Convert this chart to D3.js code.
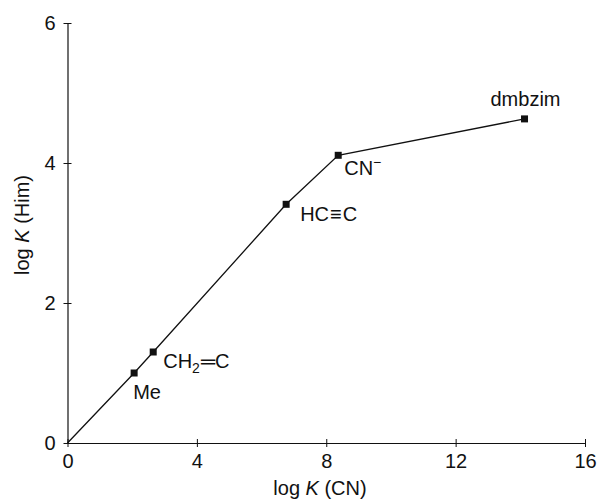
<!DOCTYPE html>
<html>
<head>
<meta charset="utf-8">
<script src="https://cdn.jsdelivr.net/npm/d3@7"></script>
<style>
  body { margin: 0; background: #fff; }
  svg { font-family: "Liberation Sans", Arial, sans-serif; }
</style>
</head>
<body>
<div id="chart"></div>
<script>
// datos
const ligands = ["Me", "CH2=C", "HC≡C", "CN-", "dmbzim"];
const logKCN = [2.06, 2.65, 6.76, 8.37, 14.13];
const logKHim = [1.0, 1.3, 3.41, 4.11, 4.63];
const xTicks = [0, 4, 8, 12, 16];
const yTicks = [0, 2, 4, 6];

const width = 599, height = 500;
const fs = 20;
const svg = d3.select("#chart").append("svg")
  .attr("width", width).attr("height", height);

const x = d3.scaleLinear().domain([0, 16]).range([67.5, 585]);
const y = d3.scaleLinear().domain([0, 6]).range([443, 23]);

// ejes
const xAxis = svg.append("g")
  .attr("transform", `translate(0,${y(0)})`)
  .call(d3.axisBottom(x).tickValues(xTicks).tickFormat(d3.format("d"))
    .tickSize(0).tickPadding(11));
const yAxis = svg.append("g")
  .attr("transform", `translate(${x(0)},0)`)
  .call(d3.axisLeft(y).tickValues(yTicks).tickFormat(d3.format("d"))
    .tickSize(0).tickPadding(12));

[xAxis, yAxis].forEach((a) => {
  a.select(".domain").attr("stroke", "#111").attr("stroke-width", 1.2);
  a.selectAll("text").attr("font-size", fs).attr("fill", "#111")
    .attr("font-family", "Liberation Sans, Arial, sans-serif");
});

// marcas que cruzan el eje
xAxis.selectAll(".tick line").attr("y1", -4).attr("y2", 4).attr("stroke", "#111");
yAxis.selectAll(".tick line").attr("x1", -4).attr("x2", 4).attr("stroke", "#111");

// linea desde el origen
const pts = [[0, 0]].concat(logKCN.map((d, i) => [d, logKHim[i]]));
svg.append("path")
  .datum(pts)
  .attr("fill", "none")
  .attr("stroke", "#111")
  .attr("stroke-width", 1.3)
  .attr("d", d3.line().x((d) => x(d[0])).y((d) => y(d[1])));

svg.selectAll("rect.pt")
  .data(logKCN)
  .enter().append("rect")
  .attr("class", "pt")
  .attr("x", (d) => x(d) - 3.5)
  .attr("y", (d, i) => y(logKHim[i]) - 3.5)
  .attr("width", 7).attr("height", 7)
  .attr("fill", "#111");

// etiquetas
const lab = svg.append("g").attr("font-size", fs).attr("fill", "#111");
const off = [[-1, 26], [10, 16], [14, 17], [6, 20], [1, -13]];
ligands.forEach((name, i) => {
  const t = lab.append("text")
    .attr("x", x(logKCN[i]) + off[i][0])
    .attr("y", y(logKHim[i]) + off[i][1]);
  if (i === 4) t.attr("text-anchor", "middle");
  if (name === "CH2=C") {
    t.append("tspan").text("CH");
    t.append("tspan").attr("font-size", 14).attr("dy", 5).text("2");
    t.append("tspan").attr("dy", -5).attr("dx", 1).text("═");
    t.append("tspan").attr("dx", 0).text("C");
  } else if (name === "CN-") {
    t.append("tspan").text("CN");
    t.append("tspan").attr("font-size", 14).attr("dy", -8).text("−");
  } else if (name === "HC≡C") {
    t.append("tspan").text("HC");
    t.append("tspan").attr("dx", 1).text("≡");
    t.append("tspan").attr("dx", 1).text("C");
  } else {
    t.text(name);
  }
});

// titulos de ejes
const xt = svg.append("text")
  .attr("x", 320).attr("y", 495)
  .attr("text-anchor", "middle").attr("font-size", fs).attr("fill", "#111");
xt.append("tspan").text("log ");
xt.append("tspan").attr("font-style", "italic").text("K");
xt.append("tspan").text(" (CN)");

const yt = svg.append("text")
  .attr("transform", "translate(29,225) rotate(-90)")
  .attr("text-anchor", "middle").attr("font-size", fs).attr("fill", "#111");
yt.append("tspan").text("log ");
yt.append("tspan").attr("font-style", "italic").text("K");
yt.append("tspan").text(" (Him)");
</script>
</body>
</html>
